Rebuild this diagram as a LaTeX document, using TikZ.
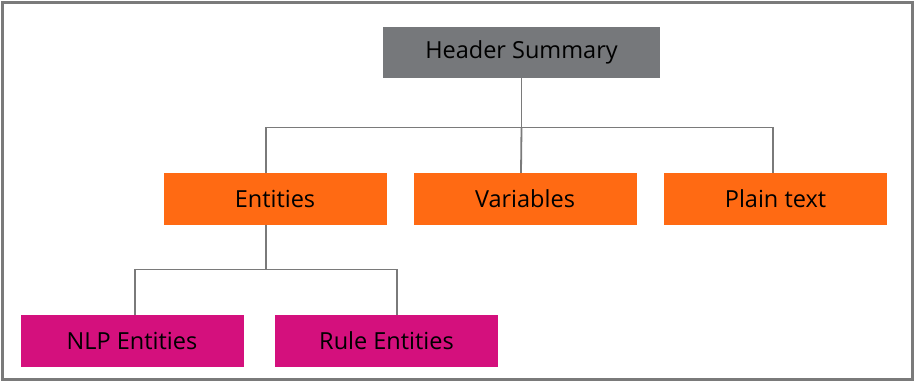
\documentclass[tikz,border=0pt]{standalone}
\usepackage{fontspec}
\setmainfont{Open Sans}
\usetikzlibrary{positioning}

\definecolor{hdrgray}{HTML}{76787B}
\definecolor{entorange}{HTML}{FF6A13}
\definecolor{submagenta}{HTML}{D4107D}
\definecolor{linegray}{HTML}{7A7A7A}

\tikzset{
  box/.style={minimum width=223pt,minimum height=52pt,inner sep=0pt,
    font=\fontsize{23.5}{27}\selectfont,text=black},
  hdrbox/.style={box,fill=hdrgray,minimum width=277pt,minimum height=51pt},
  orangebox/.style={box,fill=entorange},
  pinkbox/.style={box,fill=submagenta},
  tree/.style={linegray,line width=1.8pt}
}

\begin{document}
\begin{tikzpicture}[x=1pt,y=-1pt]

% Frame
\draw[linegray,line width=3pt] (2.5,2.5) rectangle (912.5,379.5);
\useasboundingbox (0,0) rectangle (915,382);

% Top level
\node[hdrbox] (hdr) at (521.5,52.5) {Header Summary};

% Second level
\node[orangebox] (ent) at (275,199) {Entities};
\node[orangebox] (var) at (525,199) {Variables};
\node[orangebox] (txt) at (775.5,199) {Plain text};

% Third level
\node[pinkbox] (nlp) at (132,341) {NLP Entities};
\node[pinkbox] (rule) at (386.5,341) {Rule Entities};

% Connectors
\coordinate (bus1) at (521.5,127.5);
\coordinate (bus2) at (266,269.5);
\draw[tree] (hdr.south) -- (bus1);
\draw[tree] ([xshift=-9pt]ent.north) |- (bus1) -| ([xshift=-2.5pt]txt.north);
\draw[tree] (bus1) -- ([xshift=-4pt]var.north);
\draw[tree] ([xshift=-9pt]ent.south) -- (bus2);
\draw[tree] ([xshift=3pt]nlp.north) |- (bus2) -| ([xshift=10.5pt]rule.north);

\end{tikzpicture}
\end{document}
